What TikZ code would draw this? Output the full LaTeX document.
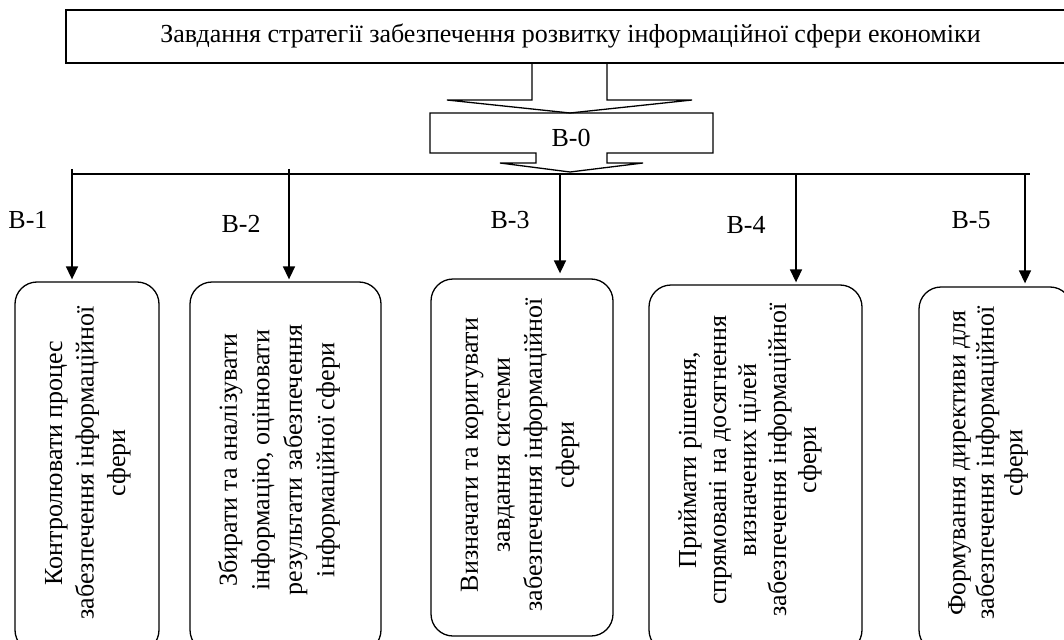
\documentclass[tikz,border=0pt]{standalone}
\usepackage{fontspec}
\setmainfont{Liberation Serif}
\usetikzlibrary{arrows.meta}
\begin{document}
\begin{tikzpicture}[x=1pt,y=-1pt]
\tikzset{
  box/.style={draw, line width=1.3pt, rounded corners=22pt, inner sep=0pt},
  txt/.style={align=center, inner sep=0pt, rotate=90},
  lbl/.style={font=\fontsize{26}{31}\selectfont, inner sep=0pt, anchor=base},
  arr/.style={line width=1.6pt, -{Triangle[length=13pt,width=12pt]}},
  ln/.style={line width=1.3pt},
}
\clip (0,0) rectangle (1064,639);
\fill[white] (0,0) rectangle (1064,639);

% top box
\node[draw, line width=1.3pt, minimum width=1009pt, minimum height=53pt, inner sep=0pt,
      font=\fontsize{26}{31}\selectfont] (top) at (570.5,36.5)
      {Завдання стратегії забезпечення розвитку інформаційної сфери економіки};

% wide arrow from top box to B-0
\draw[ln, line join=miter] (532,63) -- (532,100) -- (447,100) -- (570,113) -- (692,100) -- (607,100) -- (607,63);

% B-0 block arrow
\draw[ln, line join=miter] (430,113) -- (713,113) -- (713,153) -- (607,153) -- (607,163) -- (643,163)
   -- (570,172) -- (500,163) -- (536,163) -- (536,153) -- (430,153) -- cycle;
\node[lbl] (b0) at (571,147) {В-0};

% distribution line
\coordinate (hl) at (72,174);
\coordinate (hr) at (1030,174);
\draw[ln] (hl) -- (hr);

% boxes
\node[box, minimum width=144pt, minimum height=370pt] (b1) at (87,467) {};
\node[box, minimum width=191pt, minimum height=370pt] (b2) at (285.5,467) {};
\node[box, minimum width=182pt, minimum height=357pt] (b3) at (522,457.5) {};
\node[box, minimum width=213pt, minimum height=367pt] (b4) at (755.5,468.5) {};
\node[box, minimum width=153pt, minimum height=365pt] (b5) at (995.5,469.5) {};

% arrows
\coordinate (s1) at (72,169);
\coordinate (s2) at (289,169);
\coordinate (s3) at (560,174);
\coordinate (s4) at (796,174);
\coordinate (s5) at (1025,174);
\draw[arr, shorten >=2pt] (s1) -- (s1 |- b1.north);
\draw[arr, shorten >=2pt] (s2) -- (s2 |- b2.north);
\draw[arr, shorten >=5pt] (s3) -- (s3 |- b3.north);
\draw[arr, shorten >=2pt] (s4) -- (s4 |- b4.north);
\draw[arr, shorten >=3pt] (s5) -- (s5 |- b5.north);

% labels
\node[lbl] (l1) at (28,228) {В-1};
\node[lbl] (l2) at (241,232) {В-2};
\node[lbl] (l3) at (510,228) {В-3};
\node[lbl] (l4) at (746,233) {В-4};
\node[lbl] (l5) at (971,228) {В-5};

% box texts
\node[txt, font=\fontsize{26}{31.5}\selectfont] (x1) at (88,463)
  {Контролювати процес\\забезпечення інформаційної\\сфери};
\node[txt, font=\fontsize{26}{32.5}\selectfont] (x2) at (279,460)
  {Збирати та аналізувати\\інформацію, оцінювати\\результати забезпечення\\інформаційної сфери};
\node[txt, font=\fontsize{26}{32}\selectfont] (x3) at (520,455)
  {Визначати та коригувати\\завдання системи\\забезпечення інформаційної\\сфери};
\node[txt, font=\fontsize{26}{30}\selectfont] (x4) at (750,460)
  {Приймати рішення,\\спрямовані на досягнення\\визначених цілей\\забезпечення інформаційної\\сфери};
\node[txt, font=\fontsize{26}{28.5}\selectfont] (x5) at (988,463)
  {Формування директиви для\\забезпечення інформаційної\\сфери};
\end{tikzpicture}
\end{document}
